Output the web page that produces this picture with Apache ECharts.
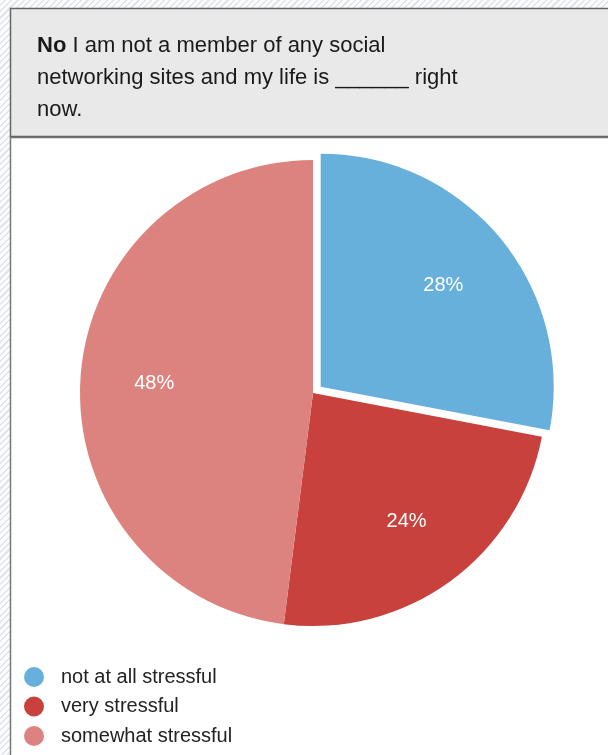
<!DOCTYPE html>
<html>
<head>
<meta charset="utf-8">
<script src="https://cdn.jsdelivr.net/npm/echarts@6/dist/echarts.min.js"></script>
<style>
    html, body { margin: 0; padding: 0; }
    body {
        width: 608px; height: 755px;
        background: repeating-linear-gradient(135deg, #fbfcfe 0px, #fbfcfe 3px, #e2e4e9 3px, #e2e4e9 4.5px);
    }
    #main { width: 608px; height: 755px; }
</style>
</head>
<body>
<div id="main"></div>
<script>
// 数据
const categories = ['not at all stressful', 'very stressful', 'somewhat stressful'];
const values = [28, 24, 48];
const colors = ['#67b0dc', '#c8413c', '#dd837f'];

// 饼图模块
(function() {
    let myChart = echarts.init(document.querySelector('#main'))
    let font = '"Liberation Sans", Helvetica, Arial, sans-serif'
    let center = [313, 393]
    let r = 233
    let pieData = categories.map(function(name, i) {
        return { name: name, value: values[i], selected: i === 0, itemStyle: { color: colors[i] } }
    })
    let option = {
        animation: false,
        backgroundColor: 'transparent',
        graphic: [
            // 白色面板
            { type: 'rect', shape: { x: 10.5, y: 137.5, width: 620, height: 640 }, style: { fill: '#fff', stroke: '#777', lineWidth: 1.5 }, z: -10 },
            // 标题框
            { type: 'rect', shape: { x: 10.5, y: 8.5, width: 620, height: 128 }, style: { fill: '#e9e9e9', stroke: '#666', lineWidth: 1.5 }, z: -9 }
        ],
        title: {
            left: 32,
            top: 25,
            text: '{b|No} I am not a member of any social\nnetworking sites and my life is ______ right\nnow.',
            textStyle: {
                fontFamily: font,
                fontSize: 22,
                fontWeight: 'normal',
                color: '#1a1a1a',
                lineHeight: 32,
                rich: {
                    b: { fontFamily: font, fontSize: 22, fontWeight: 'bold', color: '#1a1a1a', lineHeight: 32 }
                }
            }
        },
        legend: {
            orient: 'vertical',
            left: 19,
            top: 662,
            icon: 'circle',
            itemWidth: 20,
            itemHeight: 20,
            itemGap: 9.5,
            data: categories,
            selectedMode: false,
            textStyle: { fontFamily: font, fontSize: 20, color: '#222', padding: [0, 0, 0, 12] }
        },
        series: [{
            name: 'life',
            type: 'pie',
            center: center,
            radius: [0, r],
            startAngle: 90,
            selectedMode: 'single',
            selectedOffset: 10,
            label: { show: false },
            labelLine: { show: false },
            emphasis: { disabled: true },
            data: pieData
        }, {
            // 只用于放百分比标签
            name: 'labels',
            type: 'pie',
            center: center,
            radius: [r * 0.34, r],
            startAngle: 90,
            selectedMode: 'single',
            selectedOffset: 10,
            silent: true,
            itemStyle: { color: 'rgba(0,0,0,0)' },
            label: {
                show: true,
                position: 'inside',
                formatter: '{c}%',
                fontFamily: font,
                fontSize: 20,
                color: '#fff'
            },
            labelLine: { show: false },
            emphasis: { disabled: true },
            data: categories.map(function(name, i) {
                return { name: name, value: values[i], selected: i === 0 }
            })
        }]
    }
    myChart.setOption(option)
})();
</script>
</body>
</html>
